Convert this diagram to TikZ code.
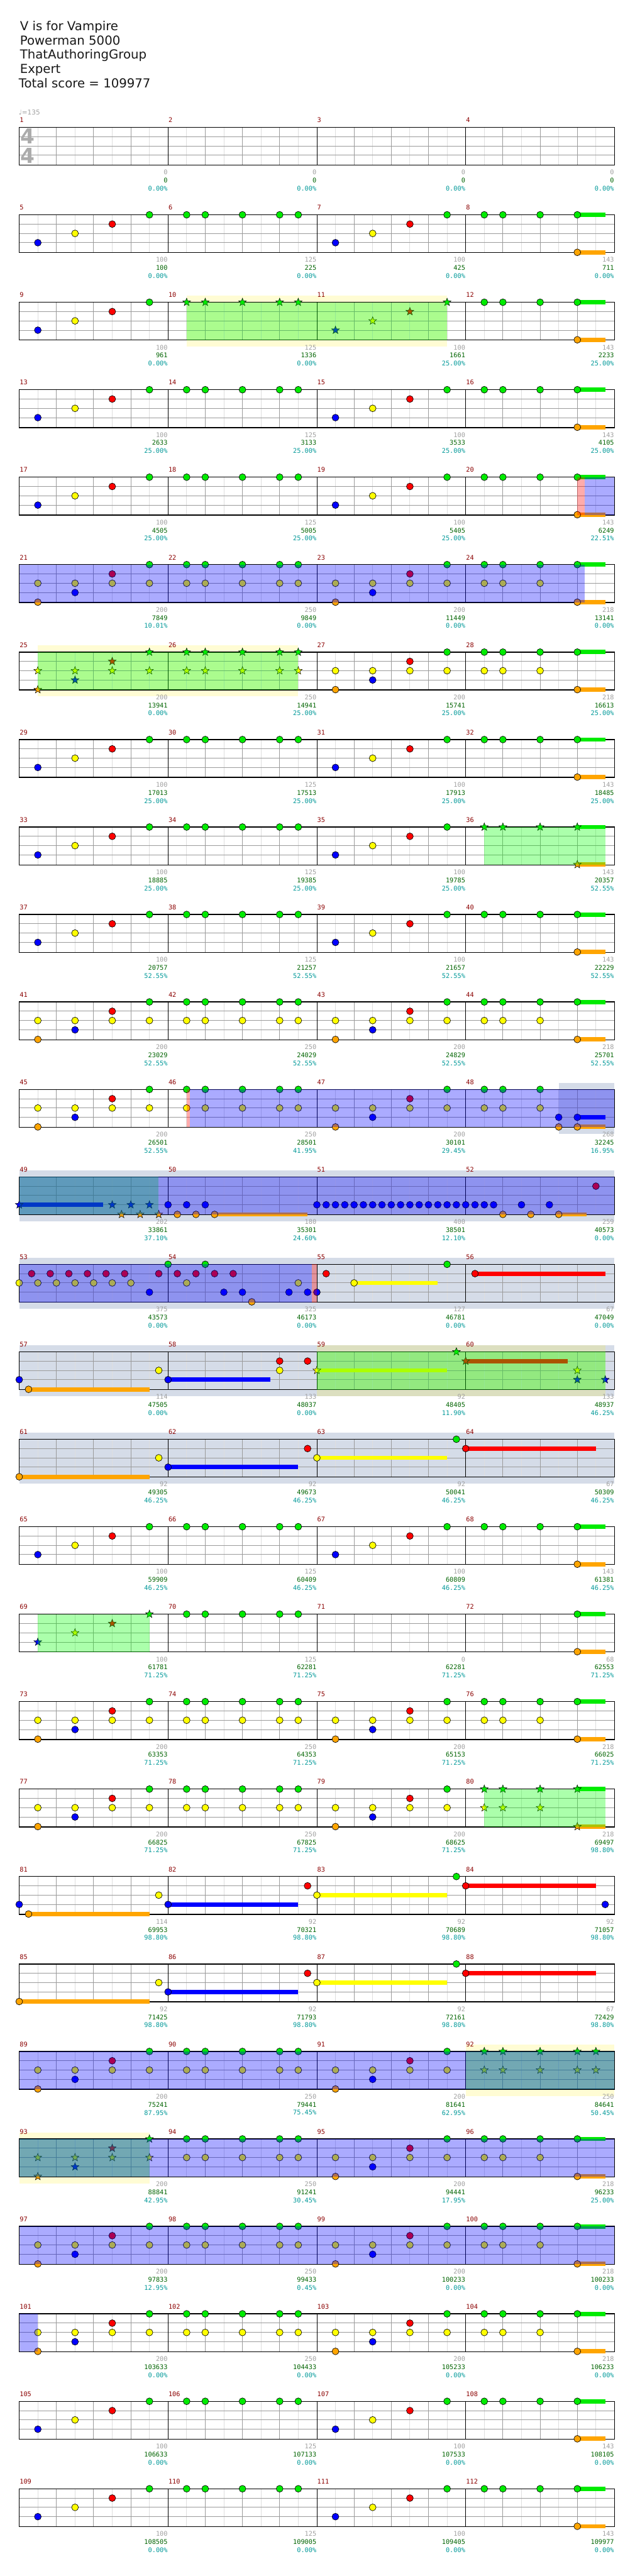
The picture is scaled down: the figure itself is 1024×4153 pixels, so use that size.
\documentclass[tikz,border=0pt]{standalone}
\usepackage{fontspec}
\setmainfont{DejaVu Sans}
\newfontfamily\monof{DejaVu Sans Mono}
\usetikzlibrary{shapes.geometric}
\pgfdeclarelayer{bg}\pgfdeclarelayer{grid}\pgfdeclarelayer{sus}\pgfdeclarelayer{over}
\pgfsetlayers{bg,grid,sus,main,over}
\definecolor{lane0}{RGB}{0,235,0}
\definecolor{lane1}{RGB}{255,0,0}
\definecolor{lane2}{RGB}{255,255,0}
\definecolor{lane3}{RGB}{0,0,255}
\definecolor{lane4}{RGB}{255,165,0}
\definecolor{numred}{RGB}{139,0,0}
\definecolor{labgray}{RGB}{160,160,160}
\definecolor{labgreen}{RGB}{0,100,0}
\definecolor{labteal}{RGB}{0,153,153}
\definecolor{bandgrey}{RGB}{213,220,232}
\definecolor{lightline}{RGB}{222,222,222}
\definecolor{midline}{RGB}{155,155,155}
\newcount\ncnt
\tikzset{
 cnote/.style={circle,draw=black,line width=0.5pt,minimum size=8.25pt,inner sep=0pt},
 snote/.style={star,star points=5,star point ratio=2.4,draw=black,line width=0.4pt,minimum size=10pt,inner sep=0pt},
 sustain/.style={line width=5.2pt},
 hbeatline/.style={lightline,line width=0.75pt},
 beatline/.style={midline,line width=0.75pt},
 barline/.style={black,line width=0.75pt},
 frameline/.style={black,line width=1pt},
 numlab/.style={font=\monof\fontsize{7.8}{8}\selectfont,inner sep=0pt},
 greyband/.style={fill=bandgrey},
 yelband/.style={fill=yellow,fill opacity=0.17},
 greenover/.style={fill=green,fill opacity=0.33},
 blueover/.style={fill=blue,fill opacity=0.33},
 pinkover/.style={fill=red,fill opacity=0.33},
}
\newcommand\mxy[1]{\pgfmathsetmacro\mX{31+240*mod(#1-1,4)}\pgfmathsetmacro\mY{205.3+141*int((#1-1)/4)}}
\newcommand\nt[4]{\mxy{#2}\pgfmathsetmacro\nX{\mX+15*#3}\pgfmathsetmacro\nY{\mY+ifthenelse(#4<4,15*#4,60.5)}%
 \global\advance\ncnt by 1
 \node[#1note,fill=lane#4] (nt\the\ncnt) at (\nX,\nY) {};}
\newcommand\su[4]{\mxy{#1}\pgfmathsetmacro\nX{\mX+15*#2}\pgfmathsetmacro\eX{\mX+15*#4}\pgfmathsetmacro\nY{\mY+ifthenelse(#3<4,15*#3,60.5)}%
 \begin{pgfonlayer}{sus}\draw[sustain,lane#3] (\nX,\nY) -- (\eX,\nY);\end{pgfonlayer}}
\newcommand\reg[7]{\mxy{#3}\pgfmathsetmacro\aX{\mX+15*#4}\pgfmathsetmacro\aY{\mY-#7}%
 \mxy{#5}\pgfmathsetmacro\bX{\mX+15*#6}\pgfmathsetmacro\bY{\mY+61+#7}%
 \begin{pgfonlayer}{#1}\fill[#2] (\aX,\aY) rectangle (\bX,\bY);\end{pgfonlayer}}
\newcommand\staff[1]{\pgfmathsetmacro\rY{205.3+141*#1}\pgfmathsetmacro\rB{\rY+61}%
 \begin{pgfonlayer}{grid}
 \foreach \j in {0,...,15}{\draw[hbeatline] ({61+60*\j},\rY) -- ({61+60*\j},\rB);}
 \foreach \j in {1,2,3,5,6,7,9,10,11,13,14,15}{\draw[beatline] ({31+60*\j},\rY) -- ({31+60*\j},\rB);}
 \foreach \l in {15,30,45}{\draw[beatline] (31,\rY+\l) -- (991,\rY+\l);}
 \foreach \j in {1,2,3}{\draw[barline] ({31+240*\j},\rY) -- ({31+240*\j},\rB);}
 \draw[frameline] (31,\rY) rectangle (991,\rB);
 \end{pgfonlayer}}
\newcommand\PA[2][c]{\nt{#1}{#2}{2}{3}\nt{#1}{#2}{6}{2}\nt{#1}{#2}{10}{1}\nt{#1}{#2}{14}{0}}
\newcommand\PB[2][c]{\foreach\p in {2,4,8,12,14}{\nt{#1}{#2}{\p}{0}}}
\newcommand\PC[2][c]{\foreach\p in {2,4,8}{\nt{#1}{#2}{\p}{0}}\su{#2}{12}{0}{15}\su{#2}{12}{4}{15}\nt{#1}{#2}{12}{0}\nt{#1}{#2}{12}{4}}
\newcommand\PD[2][c]{\nt{#1}{#2}{2}{2}\nt{#1}{#2}{2}{4}\nt{#1}{#2}{6}{2}\nt{#1}{#2}{6}{3}\nt{#1}{#2}{10}{2}\nt{#1}{#2}{10}{1}\nt{#1}{#2}{14}{2}\nt{#1}{#2}{14}{0}}
\newcommand\PE[2][c]{\foreach\p in {2,4,8,12,14}{\nt{#1}{#2}{\p}{0}\nt{#1}{#2}{\p}{2}}}
\newcommand\PF[2][c]{\foreach\p in {2,4,8}{\nt{#1}{#2}{\p}{0}\nt{#1}{#2}{\p}{2}}\su{#2}{12}{0}{15}\su{#2}{12}{4}{15}\nt{#1}{#2}{12}{0}\nt{#1}{#2}{12}{4}}
\begin{document}
\begin{tikzpicture}[x=0.75pt,y=-0.75pt]
\useasboundingbox (0,0) rectangle (1024,4153);
\begin{pgfonlayer}{bg}\fill[white] (0,0) rectangle (1024,4153);\end{pgfonlayer}
\begin{scope}[every node/.style={anchor=base west,inner sep=0pt,font=\fontsize{15}{18}\selectfont,text=black!90}]
\node (t1) at (32,49) {V is for Vampire};
\node (t2) at (32,72) {Powerman 5000};
\node (t3) at (32,95) {ThatAuthoringGroup};
\node (t4) at (32,118) {Expert};
\node (t5) at (30,141) {Total score = 109977};
\end{scope}
\node[anchor=west,inner sep=0pt,text=labgray,font=\fontsize{8}{9}\selectfont] (tempo) at (30,181) {♩=135};
\node[text=black!33,font=\bfseries\fontsize{25}{25}\selectfont,inner sep=0pt] (ts1) at (44.5,220) {4};
\node[text=black!33,font=\bfseries\fontsize{25}{25}\selectfont,inner sep=0pt] (ts2) at (44.5,250.5) {4};
\foreach \r in {0,...,27}{\staff{\r}}
\foreach \m in {1,...,112}{\mxy{\m}\node[numlab,text=numred,anchor=west] (mn\m) at (\mX+0.5,\mY-11.7) {\m};}
\foreach \m/\a/\b/\c in {1/0/0/0.00,2/0/0/0.00,3/0/0/0.00,4/0/0/0.00,
5/100/100/0.00,6/125/225/0.00,7/100/425/0.00,8/143/711/0.00,
9/100/961/0.00,10/125/1336/0.00,11/100/1661/25.00,12/143/2233/25.00,
13/100/2633/25.00,14/125/3133/25.00,15/100/3533/25.00,16/143/4105/25.00,
17/100/4505/25.00,18/125/5005/25.00,19/100/5405/25.00,20/143/6249/22.51,
21/200/7849/10.01,22/250/9849/0.00,23/200/11449/0.00,24/218/13141/0.00,
25/200/13941/0.00,26/250/14941/25.00,27/200/15741/25.00,28/218/16613/25.00,
29/100/17013/25.00,30/125/17513/25.00,31/100/17913/25.00,32/143/18485/25.00,
33/100/18885/25.00,34/125/19385/25.00,35/100/19785/25.00,36/143/20357/52.55,
37/100/20757/52.55,38/125/21257/52.55,39/100/21657/52.55,40/143/22229/52.55,
41/200/23029/52.55,42/250/24029/52.55,43/200/24829/52.55,44/218/25701/52.55,
45/200/26501/52.55,46/250/28501/41.95,47/200/30101/29.45,48/268/32245/16.95,
49/202/33861/37.10,50/180/35301/24.60,51/400/38501/12.10,52/259/40573/0.00,
53/375/43573/0.00,54/325/46173/0.00,55/127/46781/0.00,56/67/47049/0.00,
57/114/47505/0.00,58/133/48037/0.00,59/92/48405/11.90,60/133/48937/46.25,
61/92/49305/46.25,62/92/49673/46.25,63/92/50041/46.25,64/67/50309/46.25,
65/100/59909/46.25,66/125/60409/46.25,67/100/60809/46.25,68/143/61381/46.25,
69/100/61781/71.25,70/125/62281/71.25,71/0/62281/71.25,72/68/62553/71.25,
73/200/63353/71.25,74/250/64353/71.25,75/200/65153/71.25,76/218/66025/71.25,
77/200/66825/71.25,78/250/67825/71.25,79/200/68625/71.25,80/218/69497/98.80,
81/114/69953/98.80,82/92/70321/98.80,83/92/70689/98.80,84/92/71057/98.80,
85/92/71425/98.80,86/92/71793/98.80,87/92/72161/98.80,88/67/72429/98.80,
89/200/75241/87.95,90/250/79441/75.45,91/200/81641/62.95,92/250/84641/50.45,
93/200/88841/42.95,94/250/91241/30.45,95/200/94441/17.95,96/218/96233/25.00,
97/200/97833/12.95,98/250/99433/0.45,99/200/100233/0.00,100/218/100233/0.00,
101/200/103633/0.00,102/250/104433/0.00,103/200/105233/0.00,104/218/106233/0.00,
105/100/106633/0.00,106/125/107133/0.00,107/100/107533/0.00,108/143/108105/0.00,
109/100/108505/0.00,110/125/109005/0.00,111/100/109405/0.00,112/143/109977/0.00}{
 \mxy{\m}
 \node[numlab,text=labgray,anchor=east] (la\m) at (\mX+239.5,\mY+72.7) {\a};
 \node[numlab,text=labgreen,anchor=east] (lb\m) at (\mX+239.5,\mY+85.7) {\b};
 \node[numlab,text=labteal,anchor=east] (lc\m) at (\mX+239.5,\mY+98.7) {\c\%};
}
\reg{bg}{greyband}{48}{10}{48}{16}{10.6}
\reg{bg}{greyband}{49}{0}{52}{16}{10.6}
\reg{bg}{greyband}{53}{0}{56}{16}{10.6}
\reg{bg}{greyband}{57}{0}{60}{16}{10.6}
\reg{bg}{greyband}{61}{0}{64}{16}{10.6}
\reg{bg}{yelband}{10}{2}{11}{14}{10.6}
\reg{bg}{yelband}{25}{2}{26}{14}{10.6}
\reg{bg}{yelband}{59}{0}{60}{15}{10.6}
\reg{bg}{yelband}{92}{0}{92}{16}{10.6}
\reg{bg}{yelband}{93}{0}{93}{14}{10.6}
\reg{over}{greenover}{10}{2}{11}{14}{0}
\reg{over}{greenover}{25}{2}{26}{14}{0}
\reg{over}{greenover}{36}{2}{36}{15}{0}
\reg{over}{greenover}{49}{0}{49}{15}{0}
\reg{over}{greenover}{59}{0}{60}{15}{0}
\reg{over}{greenover}{69}{2}{69}{14}{0}
\reg{over}{greenover}{80}{2}{80}{15}{0}
\reg{over}{greenover}{92}{0}{92}{16}{0}
\reg{over}{greenover}{93}{0}{93}{14}{0}
\reg{over}{pinkover}{20}{12}{20}{12.77}{0}
\reg{over}{blueover}{20}{12.77}{20}{16}{0}
\reg{over}{blueover}{21}{0}{24}{12.77}{0}
\reg{over}{pinkover}{46}{2}{46}{2.33}{0}
\reg{over}{blueover}{46}{2.33}{48}{16}{0}
\reg{over}{blueover}{49}{0}{52}{16}{0}
\reg{over}{blueover}{53}{0}{54}{15.47}{0}
\reg{over}{pinkover}{54}{15.47}{54}{16}{0}
\reg{over}{blueover}{89}{0}{92}{16}{0}
\reg{over}{blueover}{93}{0}{96}{16}{0}
\reg{over}{blueover}{97}{0}{100}{16}{0}
\reg{over}{blueover}{101}{0}{101}{2}{0}
\PA{5}\PB{6}\PA{7}\PC{8}
\PA{9}\PB[s]{10}\PA[s]{11}\PC{12}
\PA{13}\PB{14}\PA{15}\PC{16}
\PA{17}\PB{18}\PA{19}\PC{20}
\PD{21}\PE{22}\PD{23}\PF{24}
\PD[s]{25}\PE[s]{26}\PD{27}\PF{28}
\PA{29}\PB{30}\PA{31}\PC{32}
\PA{33}\PB{34}\PA{35}\PC[s]{36}
\PA{37}\PB{38}\PA{39}\PC{40}
\PD{41}\PE{42}\PD{43}\PF{44}
\PD{45}\PE{46}\PD{47}
\foreach\p in {2,4,8}{\nt{c}{48}{\p}{0}\nt{c}{48}{\p}{2}}
\nt{c}{48}{10}{3}\nt{c}{48}{10}{4}
\su{48}{12}{3}{15}\su{48}{12}{4}{15}\nt{c}{48}{12}{3}\nt{c}{48}{12}{4}
\su{49}{0}{3}{9}\nt{s}{49}{0}{3}
\nt{s}{49}{10}{3}\nt{s}{49}{11}{4}\nt{s}{49}{12}{3}\nt{s}{49}{13}{4}\nt{s}{49}{14}{3}\nt{s}{49}{15}{4}
\nt{c}{50}{0}{3}\nt{c}{50}{1}{4}\nt{c}{50}{2}{3}\nt{c}{50}{3}{4}\nt{c}{50}{4}{3}\su{50}{5}{4}{15}\nt{c}{50}{5}{4}
\foreach\p in {0,...,15}{\nt{c}{51}{\p}{3}}
\foreach\p in {0,1,2,3,6,9}{\nt{c}{52}{\p}{3}}
\nt{c}{52}{4}{4}\nt{c}{52}{7}{4}\su{52}{10}{4}{13}\nt{c}{52}{10}{4}\nt{c}{52}{14}{1}
\foreach\p in {0,2,...,12}{\nt{c}{53}{\p}{2}}
\foreach\p in {1.3333,3.3333,5.3333,7.3333,9.3333,11.3333,15}{\nt{c}{53}{\p}{1}}
\nt{c}{53}{14}{3}
\nt{c}{54}{0}{0}\nt{c}{54}{4}{0}
\foreach\p in {1,3,5,7}{\nt{c}{54}{\p}{1}}
\nt{c}{54}{2}{2}\nt{c}{54}{14}{2}
\foreach\p in {6,8,13,15}{\nt{c}{54}{\p}{3}}
\nt{c}{54}{9}{4}
\nt{c}{55}{0}{3}\nt{c}{55}{1}{1}\su{55}{4}{2}{13}\nt{c}{55}{4}{2}\nt{c}{55}{14}{0}
\su{56}{1}{1}{15}\nt{c}{56}{1}{1}
\nt{c}{57}{0}{3}\su{57}{1}{4}{14}\nt{c}{57}{1}{4}\nt{c}{57}{15}{2}
\su{58}{0}{3}{11}\nt{c}{58}{0}{3}\nt{c}{58}{12}{1}\nt{c}{58}{12}{2}\nt{c}{58}{15}{1}
\su{59}{0}{2}{14}\nt{s}{59}{0}{2}\nt{s}{59}{15}{0}
\su{60}{0}{1}{11}\nt{s}{60}{0}{1}\nt{s}{60}{12}{2}\nt{s}{60}{12}{3}\nt{s}{60}{15}{3}
\su{61}{0}{4}{14}\nt{c}{61}{0}{4}\nt{c}{61}{15}{2}
\su{62}{0}{3}{14}\nt{c}{62}{0}{3}\nt{c}{62}{15}{1}
\su{63}{0}{2}{14}\nt{c}{63}{0}{2}\nt{c}{63}{15}{0}
\su{64}{0}{1}{14}\nt{c}{64}{0}{1}
\PA{65}\PB{66}\PA{67}\PC{68}
\PA[s]{69}\PB{70}
\su{72}{12}{0}{15}\su{72}{12}{4}{15}\nt{c}{72}{12}{0}\nt{c}{72}{12}{4}
\PD{73}\PE{74}\PD{75}\PF{76}
\PD{77}\PE{78}\PD{79}\PF[s]{80}
\nt{c}{81}{0}{3}\su{81}{1}{4}{14}\nt{c}{81}{1}{4}\nt{c}{81}{15}{2}
\su{82}{0}{3}{14}\nt{c}{82}{0}{3}\nt{c}{82}{15}{1}
\su{83}{0}{2}{14}\nt{c}{83}{0}{2}\nt{c}{83}{15}{0}
\su{84}{0}{1}{14}\nt{c}{84}{0}{1}\nt{c}{84}{15}{3}
\su{85}{0}{4}{14}\nt{c}{85}{0}{4}\nt{c}{85}{15}{2}
\su{86}{0}{3}{14}\nt{c}{86}{0}{3}\nt{c}{86}{15}{1}
\su{87}{0}{2}{14}\nt{c}{87}{0}{2}\nt{c}{87}{15}{0}
\su{88}{0}{1}{14}\nt{c}{88}{0}{1}
\PD{89}\PE{90}\PD{91}\PE[s]{92}
\PD[s]{93}\PE{94}\PD{95}\PF{96}
\PD{97}\PE{98}\PD{99}\PF{100}
\PD{101}\PE{102}\PD{103}\PF{104}
\PA{105}\PB{106}\PA{107}\PC{108}
\PA{109}\PB{110}\PA{111}\PC{112}
\end{tikzpicture}
\end{document}
